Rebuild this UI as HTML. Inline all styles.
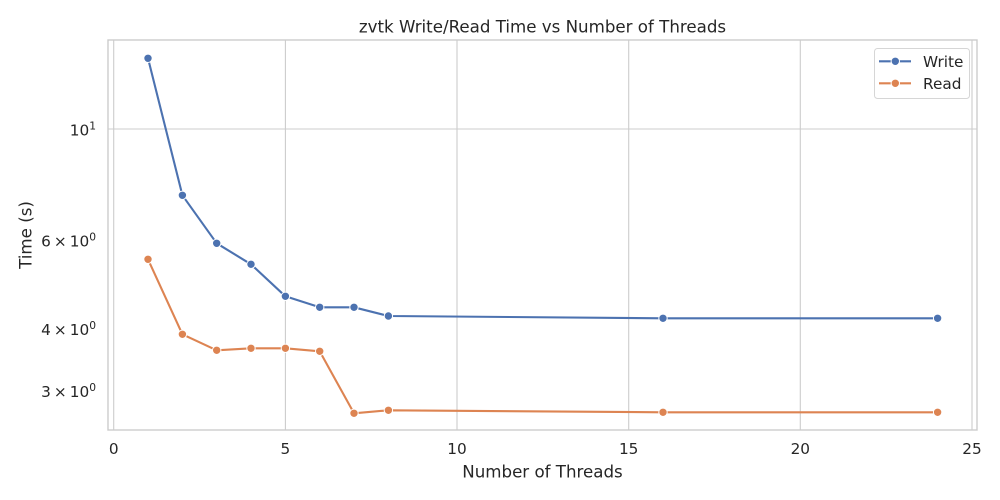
<!DOCTYPE html>
<html>
<head>
<meta charset="utf-8">
<style>
  html, body { margin: 0; padding: 0; background: #ffffff; }
  svg { display: block; }
  text { font-family: "DejaVu Sans", "Liberation Sans", sans-serif; fill: #262626; }
</style>
</head>
<body>
<svg width="1000" height="500" viewBox="0 0 1000 500" xmlns="http://www.w3.org/2000/svg">
  <rect x="0" y="0" width="1000" height="500" fill="#ffffff"/>

  <!-- grid -->
  <g stroke="#cccccc" stroke-width="1.1">
    <line x1="113.7" y1="40" x2="113.7" y2="430"/>
    <line x1="285.4" y1="40" x2="285.4" y2="430"/>
    <line x1="457.0" y1="40" x2="457.0" y2="430"/>
    <line x1="628.7" y1="40" x2="628.7" y2="430"/>
    <line x1="800.3" y1="40" x2="800.3" y2="430"/>
    <line x1="972.0" y1="40" x2="972.0" y2="430"/>
    <line x1="108" y1="129" x2="977" y2="129"/>
  </g>

  <!-- spines -->
  <rect x="108" y="40" width="869" height="390" fill="none" stroke="#cccccc" stroke-width="1.4"/>

  <!-- Write series -->
  <polyline fill="none" stroke="#4c72b0" stroke-width="2.1" stroke-linejoin="round" stroke-linecap="round"
    points="148,58.3 182.4,195.3 216.7,243.3 251,264.3 285.4,296.3 319.7,307.3 354,307.3 388.4,316 663,318.3 937.6,318.3"/>
  <g fill="#4c72b0" stroke="#ffffff" stroke-width="1">
    <circle cx="148" cy="58.3" r="4.2"/>
    <circle cx="182.4" cy="195.3" r="4.2"/>
    <circle cx="216.7" cy="243.3" r="4.2"/>
    <circle cx="251" cy="264.3" r="4.2"/>
    <circle cx="285.4" cy="296.3" r="4.2"/>
    <circle cx="319.7" cy="307.3" r="4.2"/>
    <circle cx="354" cy="307.3" r="4.2"/>
    <circle cx="388.4" cy="316" r="4.2"/>
    <circle cx="663" cy="318.3" r="4.2"/>
    <circle cx="937.6" cy="318.3" r="4.2"/>
  </g>

  <!-- Read series -->
  <polyline fill="none" stroke="#dd8452" stroke-width="2.1" stroke-linejoin="round" stroke-linecap="round"
    points="148,259.3 182.4,334.3 216.7,350.3 251,348.3 285.4,348.3 319.7,351.3 354,413.3 388.4,410.3 663,412.3 937.6,412.3"/>
  <g fill="#dd8452" stroke="#ffffff" stroke-width="1">
    <circle cx="148" cy="259.3" r="4.2"/>
    <circle cx="182.4" cy="334.3" r="4.2"/>
    <circle cx="216.7" cy="350.3" r="4.2"/>
    <circle cx="251" cy="348.3" r="4.2"/>
    <circle cx="285.4" cy="348.3" r="4.2"/>
    <circle cx="319.7" cy="351.3" r="4.2"/>
    <circle cx="354" cy="413.3" r="4.2"/>
    <circle cx="388.4" cy="410.3" r="4.2"/>
    <circle cx="663" cy="412.3" r="4.2"/>
    <circle cx="937.6" cy="412.3" r="4.2"/>
  </g>

  <!-- x tick labels -->
  <g font-size="15.3" text-anchor="middle">
    <text x="113.7" y="454">0</text>
    <text x="285.4" y="454">5</text>
    <text x="457.0" y="454">10</text>
    <text x="628.7" y="454">15</text>
    <text x="800.3" y="454">20</text>
    <text x="972.0" y="454">25</text>
  </g>

  <!-- y tick labels -->
  <g font-size="15.3" text-anchor="end">
    <text x="96" y="135.7">10<tspan font-size="10.7" dy="-6">1</tspan></text>
    <text x="96" y="246.7">6&#8201;×&#8201;10<tspan font-size="10.7" dy="-6">0</tspan></text>
    <text x="96" y="335.2">4&#8201;×&#8201;10<tspan font-size="10.7" dy="-6">0</tspan></text>
    <text x="96" y="397.2">3&#8201;×&#8201;10<tspan font-size="10.7" dy="-6">0</tspan></text>
  </g>

  <!-- axis labels -->
  <text x="542.5" y="477.7" font-size="16.67" text-anchor="middle">Number of Threads</text>
  <text x="0" y="0" font-size="16.67" text-anchor="middle" transform="translate(31.5,235) rotate(-90)">Time (s)</text>

  <!-- title -->
  <text x="542.5" y="32.3" font-size="16.67" text-anchor="middle">zvtk Write/Read Time vs Number of Threads</text>

  <!-- legend -->
  <rect x="874.5" y="48.5" width="95" height="50" rx="3" ry="3" fill="#ffffff" fill-opacity="0.8" stroke="#d6d6d6" stroke-width="1"/>
  <line x1="879" y1="61.3" x2="911" y2="61.3" stroke="#4c72b0" stroke-width="2.1"/>
  <circle cx="895.3" cy="61.3" r="4.2" fill="#4c72b0" stroke="#ffffff" stroke-width="1"/>
  <line x1="879" y1="83.3" x2="911" y2="83.3" stroke="#dd8452" stroke-width="2.1"/>
  <circle cx="895.3" cy="83.3" r="4.2" fill="#dd8452" stroke="#ffffff" stroke-width="1"/>
  <text x="923" y="66.8" font-size="15.3">Write</text>
  <text x="923" y="88.8" font-size="15.3">Read</text>
</svg>
</body>
</html>
